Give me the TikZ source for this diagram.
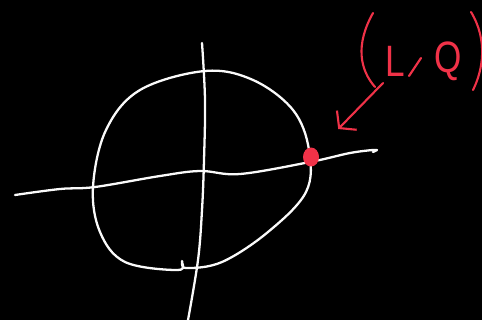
\documentclass[tikz,border=0pt]{standalone}
\usepackage{fontspec}
\setsansfont{Liberation Sans}
\usepackage{tikz}
\usetikzlibrary{arrows.meta, positioning, shapes.geometric}
\definecolor{penred}{RGB}{240,50,72}
\definecolor{chalk}{RGB}{250,250,250}

\begin{document}
\begin{tikzpicture}[x=0.02cm, y=-0.02cm, >={Straight Barb[length=2.2mm, width=5.5mm]},
    stroke/.style={chalk, line width=1.3pt, line cap=round, line join=round},
    redpen/.style={penred, line width=1.2pt, line cap=round, line join=round},
    hand/.style={penred, font=\sffamily\fontsize{25}{25}\selectfont, inner sep=0pt, xscale=0.8}]
    % Board
    \fill[black] (0,0) rectangle (482,320);
    \useasboundingbox (0,0) rectangle (482,320);

    % Circle
    \draw[stroke] plot[smooth cycle, tension=0.6] coordinates {(205,71) (253,80) (293,110) (309,150) (306,192) (268,232) (222,262) (186,268) (182,261) (178,270) (125,262) (100,232) (93,187) (106,130) (140,90)};

    % Horizontal axis
    \draw[stroke] plot[smooth, tension=0.6] coordinates {(15,195) (60,189) (95,187) (160,176) (200,171) (240,174) (310,162) (350,153) (373,150)} -- (377,150) -- (373,152);
    % Vertical axis
    \draw[stroke] plot[smooth, tension=0.6] coordinates {(202,43) (205,100) (204,160) (202,210) (198,260) (188,320)};

    % Marked point and label
    \node[ellipse, fill=penred, minimum width=0.32cm, minimum height=0.38cm, inner sep=0pt] (pt) at (311,157) {};
    \coordinate (tail) at (383,83);
    \draw[redpen, ->, shorten >=0.6cm] (tail) -- (pt);
    \draw[redpen] (373,13) .. controls (355,45) and (360,70) .. (375,87);
    \draw[redpen] (471,12) .. controls (488,40) and (483,70) .. (473,90);
    \node[hand] (lx) at (395,61) {L};
    \draw[redpen] (421,58) -- (409,76);
    \node[hand] (ly) at (448,61) {Q};
\end{tikzpicture}
\end{document}
